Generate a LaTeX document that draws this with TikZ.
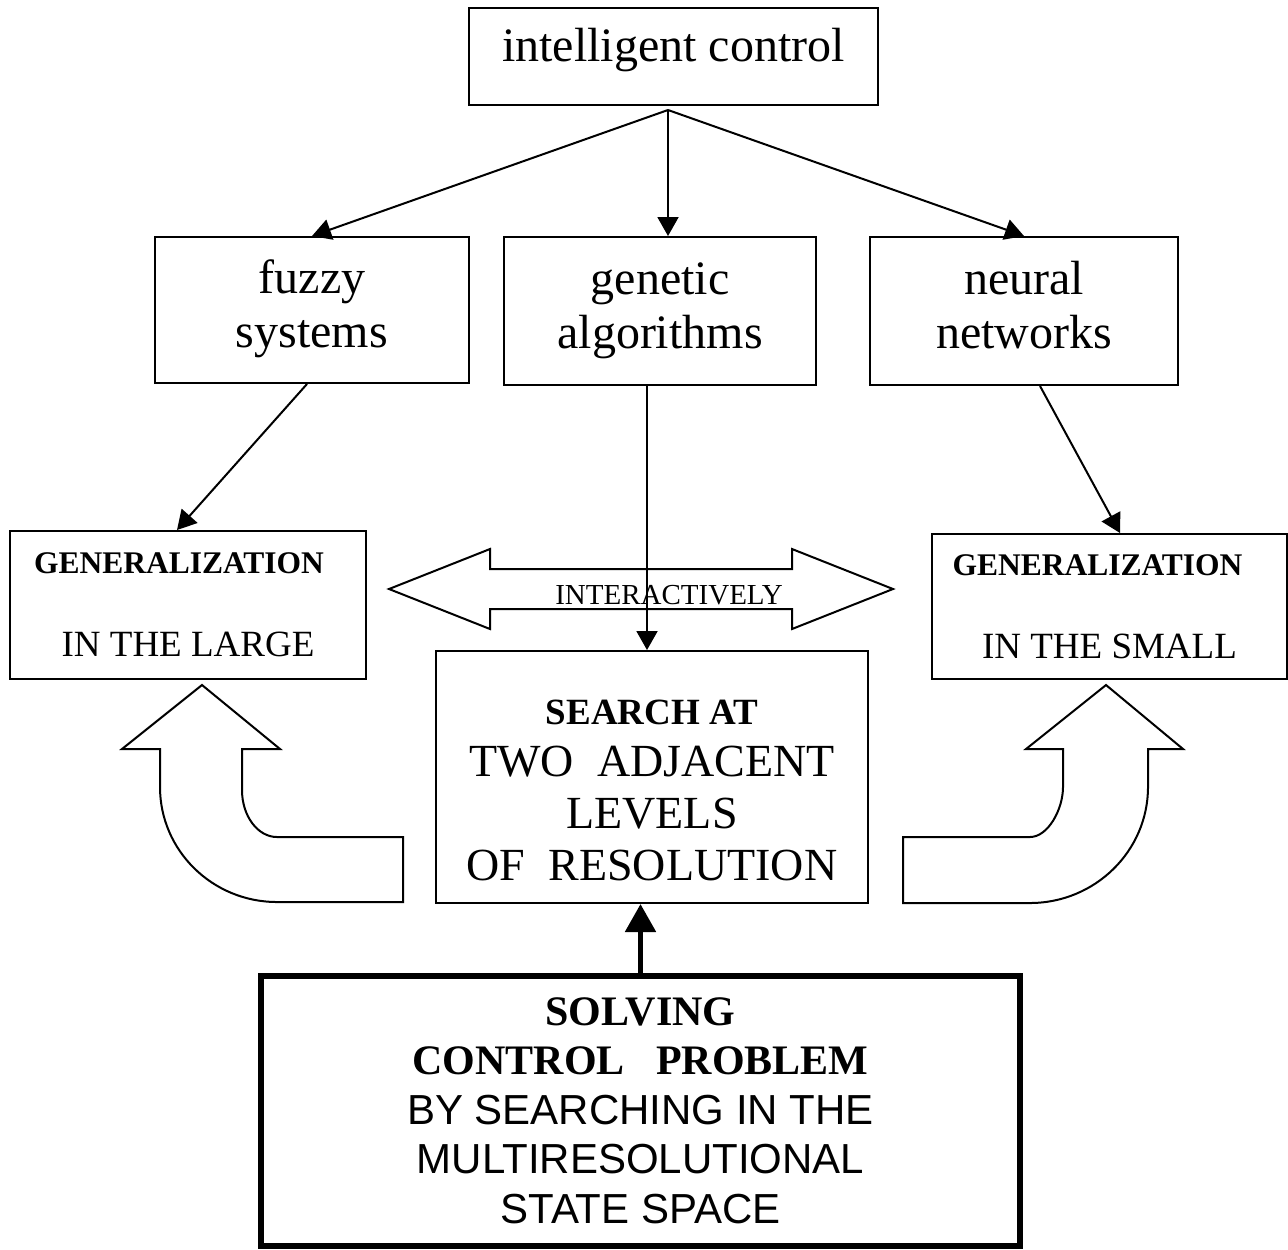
\documentclass[tikz,border=0pt]{standalone}
\usepackage{fontspec}
\setmainfont{Liberation Serif}
\newfontfamily\arialfont{Liberation Sans}
\usetikzlibrary{arrows.meta}

\begin{document}
\begin{tikzpicture}[x=0.5pt,y=-0.5pt,line width=1pt,
  >={Triangle[length=9.5pt,width=10.5pt]},
  box node/.style={draw,rectangle,inner sep=0pt,align=center},
  level node/.style={box node,font=\fontsize{24}{27}\selectfont},
  thick arrow/.style={line width=2.6pt,-{Triangle[length=14pt,width=15pt]}}]
  \useasboundingbox (0,0) rectangle (1288,1249);
  \node[box node,minimum width=204.5pt,minimum height=48.5pt,text height=16pt,text depth=11.5pt,
    font=\fontsize{24}{27}\selectfont] (intel_ctrl) at (673.5,56.5) {intelligent control};
  \node[level node,minimum width=157pt,minimum height=73pt] (fuzzy_sys) at (312,310)
    {\strut fuzzy\\ systems\strut};
  \node[level node,minimum width=156pt,minimum height=74pt] (gen_alg) at (660,311)
    {\strut genetic\\ algorithms\strut};
  \node[level node,minimum width=154pt,minimum height=74pt] (neural_net) at (1024,311)
    {\strut neural\\ networks\strut};
  \node[box node,minimum width=178pt,minimum height=74pt,font=\fontsize{18.5}{22}\selectfont]
    (gen_large) at (188,605)
    {{\bfseries\fontsize{15.75}{18}\selectfont GENERALIZATION\hspace*{9pt}}\\[19.5pt] IN THE LARGE};
  \node[box node,minimum width=177.5pt,minimum height=72.5pt,font=\fontsize{18.5}{22}\selectfont]
    (gen_small) at (1109.5,606.5)
    {{\bfseries\fontsize{15.75}{18}\selectfont GENERALIZATION\hspace*{12pt}}\\[19.5pt] IN THE SMALL};
  \node[box node,minimum width=216pt,minimum height=126pt,font=\fontsize{23}{26}\selectfont]
    (search_lvl) at (652,777)
    {\rule{0pt}{26pt}{\bfseries\fontsize{18.5}{22}\selectfont SEARCH AT}\\
     TWO\ \ ADJACENT\\ LEVELS\\ OF\ \ RESOLUTION};
  \node[box node,line width=3pt,minimum width=379.5pt,minimum height=135.25pt,
    font=\fontsize{21}{24.75}\selectfont] (solve_prob) at (640.5,1110.75)
    {{\bfseries SOLVING}\\ {\bfseries CONTROL\ \ \ PROBLEM}\\ {\arialfont BY SEARCHING IN THE}\\
     {\arialfont MULTIRESOLUTIONAL}\\ {\arialfont STATE SPACE}};
  \coordinate (ic_foot) at ([xshift=-2.75pt,yshift=-2pt]intel_ctrl.south);
  \draw[->] (ic_foot) -- (fuzzy_sys.north);
  \draw[->] (ic_foot) -- (ic_foot |- gen_alg.north);
  \draw[->] (ic_foot) -- (neural_net.north);
  \draw[->] ([xshift=-2.5pt]fuzzy_sys.south) -- ([xshift=-5.5pt]gen_large.north);
  \draw[->] ([xshift=8pt]neural_net.south) -- ([xshift=5.25pt]gen_small.north);
  \draw (389,589) -- (490,549) -- (490,569) -- (792,569) -- (792,549) -- (893,589)
    -- (792,629) -- (792,609) -- (490,609) -- (490,629) -- cycle;
  \node[inner sep=0pt,font=\fontsize{14.5}{17}\selectfont] (interact) at (669,595.5) {INTERACTIVELY};
  \draw[->] ([xshift=-6.5pt]gen_alg.south) -- ([xshift=-6.5pt]gen_alg.south |- search_lvl.north);
  \draw[thick arrow] (solve_prob.north) -- (solve_prob.north |- search_lvl.south);
  \draw (202,685) -- (280,749) -- (242,749) -- (242,790)
    .. controls (242,816) and (257.7,837) .. (277,837) -- (403,837) -- (403,902) -- (277,902)
    .. controls (212.4,902) and (160,850.5) .. (160,787) -- (160,749) -- (122,749) -- cycle;
  \draw (1106,685) -- (1183,749) -- (1148,749) -- (1148,787)
    .. controls (1148,851) and (1095,903) .. (1030,903) -- (903,903) -- (903,837) -- (1030,837)
    .. controls (1048,837) and (1063,809.4) .. (1063,787) -- (1063,749) -- (1026,749) -- cycle;
\end{tikzpicture}
\end{document}
